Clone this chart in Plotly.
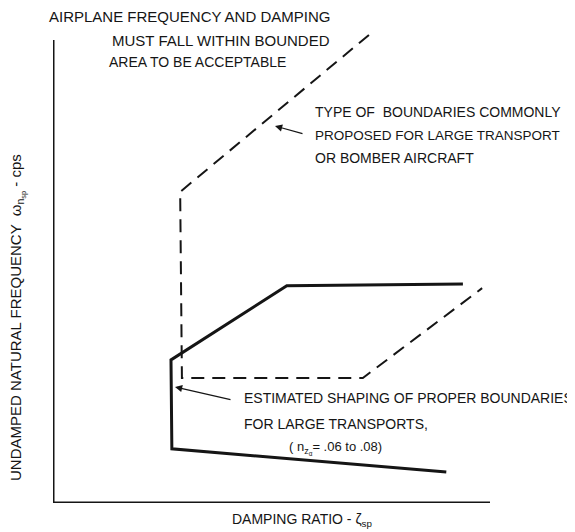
import plotly.graph_objects as go

# ---- data (arbitrary units: damping ratio on x, natural frequency on y; axes span 0..10) ----
axis_x = [0, 0, 10]
axis_y = [10, 0, 0]

# Estimated proper boundaries for large transports (solid)
solid_x = [9.0, 2.72, 2.70, 5.35, 9.38]
solid_y = [0.67, 1.17, 3.09, 4.69, 4.73]

# Boundaries commonly proposed for large transport / bomber aircraft (dashed)
dashed_x = [7.23, 2.91, 2.95, 7.09, 9.82]
dashed_y = [10.11, 6.72, 2.70, 2.70, 4.64]

# page body has an 8px margin; the figure is shrunk and positions shifted to compensate
OFF = 8
W, H = 575 - OFF, 532 - OFF
AX_L, AX_B = 53, 503          # axis corner in window pixels
ML, MR, MT, MB = AX_L - OFF, 0, 12, H - (AX_B - OFF)
PX_PER_X = 43.7
PX_PER_Y = 46.3
FONT = "Liberation Sans"
INK = "#151515"


def px2paper(px, py):
    fx, fy = px - OFF, py - OFF
    return (fx - ML) / (W - ML - MR), (H - MB - fy) / (H - MT - MB)


fig = go.Figure()
fig.add_trace(go.Scatter(x=axis_x, y=axis_y, mode="lines",
                         line=dict(color=INK, width=3), hoverinfo="skip"))
fig.add_trace(go.Scatter(x=solid_x, y=solid_y, mode="lines",
                         line=dict(color=INK, width=3), hoverinfo="skip"))
fig.add_trace(go.Scatter(x=dashed_x, y=dashed_y, mode="lines",
                         line=dict(color=INK, width=2, dash="13px,8px"), hoverinfo="skip"))


def text(s, px, py, anchor="left", size=14, angle=0):
    x, y = px2paper(px, py)
    fig.add_annotation(x=x, y=y, xref="paper", yref="paper", text=s, showarrow=False,
                       xanchor=anchor, yanchor="middle", textangle=angle,
                       font=dict(family=FONT, size=size, color=INK))


text("AIRPLANE FREQUENCY AND DAMPING", 47, 16, size=15)
text("MUST FALL WITHIN BOUNDED", 110, 41, size=15)
text("AREA TO BE ACCEPTABLE", 107, 62)
text("TYPE OF  BOUNDARIES COMMONLY", 313, 112)
text("PROPOSED FOR LARGE TRANSPORT", 313, 135, size=13.5)
text("OR BOMBER AIRCRAFT", 313, 158)
text("ESTIMATED SHAPING OF PROPER BOUNDARIES", 242, 398)
text("FOR LARGE TRANSPORTS,", 242, 424)
text("( n<sub>z<sub>α</sub></sub>= .06 to .08)", 287, 448, size=13)
text("DAMPING RATIO - ζ<sub>sp</sub>", 302, 520, anchor="center", size=14)
text("UNDAMPED NATURAL FREQUENCY  ω<sub>n<sub>sp</sub></sub> - cps", 17, 318,
     anchor="center", size=15, angle=-90)


def arrow(tip_px, tail_px):
    x = (tip_px[0] - AX_L) / PX_PER_X
    y = (AX_B - tip_px[1]) / PX_PER_Y
    fig.add_annotation(x=x, y=y, xref="x", yref="y", text="", showarrow=True,
                       ax=tail_px[0] - tip_px[0], ay=tail_px[1] - tip_px[1],
                       arrowhead=2, arrowsize=1.2, arrowwidth=1.2, arrowcolor=INK)


arrow((275, 126), (304, 134))
arrow((175, 387), (232, 400))

fig.update_layout(
    width=W, height=H, margin=dict(l=ML, r=MR, t=MT, b=MB),
    paper_bgcolor="white", plot_bgcolor="white", showlegend=False,
    xaxis=dict(range=[0, (W - ML - MR) / PX_PER_X], visible=False, fixedrange=True),
    yaxis=dict(range=[0, (H - MT - MB) / PX_PER_Y], visible=False, fixedrange=True),
)
fig.write_html("out.html")
